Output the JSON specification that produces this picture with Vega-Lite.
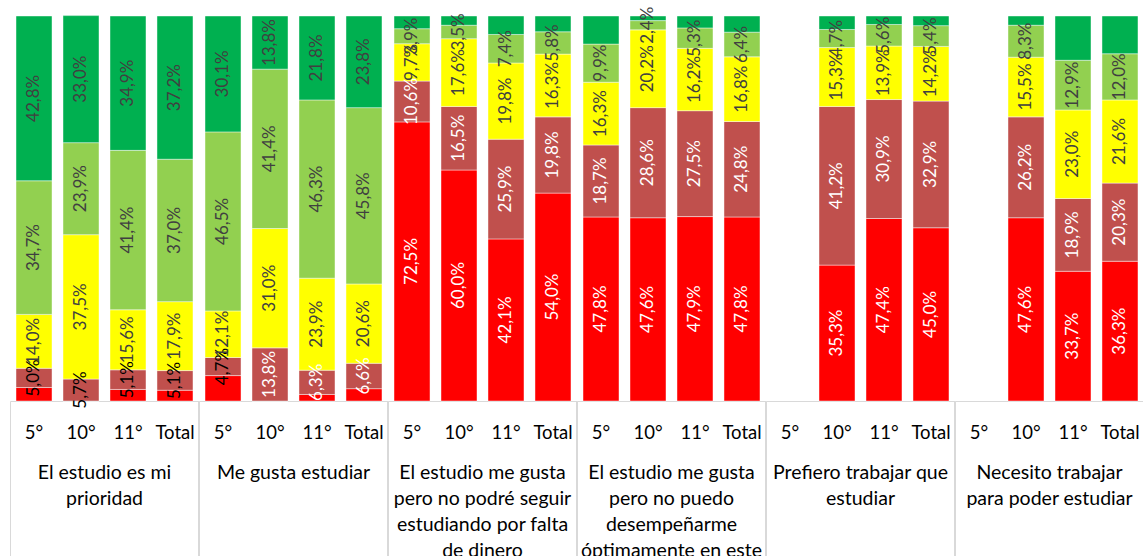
{
  "$schema": "https://vega.github.io/schema/vega-lite/v6.json",
  "padding": {"left": 9, "top": 6, "right": 0, "bottom": 0},
  "background": "white",
  "bounds": "flush",
  "config": {
    "font": "Lato",
    "view": {"stroke": null},
    "locale": {"number": {"decimal": ",", "thousands": ".", "grouping": [3], "currency": ["", " €"]}}
  },
  "data": {"values": [
    {"grupo": "El estudio es mi prioridad", "grado": "5°", "nivel": 1, "valor": 0.035, "etiqueta": false},
    {"grupo": "El estudio es mi prioridad", "grado": "5°", "nivel": 2, "valor": 0.050, "etiqueta": true},
    {"grupo": "El estudio es mi prioridad", "grado": "5°", "nivel": 3, "valor": 0.140, "etiqueta": true},
    {"grupo": "El estudio es mi prioridad", "grado": "5°", "nivel": 4, "valor": 0.347, "etiqueta": true},
    {"grupo": "El estudio es mi prioridad", "grado": "5°", "nivel": 5, "valor": 0.428, "etiqueta": true},
    {"grupo": "El estudio es mi prioridad", "grado": "10°", "nivel": 1, "valor": 0.000, "etiqueta": false},
    {"grupo": "El estudio es mi prioridad", "grado": "10°", "nivel": 2, "valor": 0.057, "etiqueta": true},
    {"grupo": "El estudio es mi prioridad", "grado": "10°", "nivel": 3, "valor": 0.375, "etiqueta": true},
    {"grupo": "El estudio es mi prioridad", "grado": "10°", "nivel": 4, "valor": 0.239, "etiqueta": true},
    {"grupo": "El estudio es mi prioridad", "grado": "10°", "nivel": 5, "valor": 0.330, "etiqueta": true},
    {"grupo": "El estudio es mi prioridad", "grado": "11°", "nivel": 1, "valor": 0.030, "etiqueta": false},
    {"grupo": "El estudio es mi prioridad", "grado": "11°", "nivel": 2, "valor": 0.051, "etiqueta": true},
    {"grupo": "El estudio es mi prioridad", "grado": "11°", "nivel": 3, "valor": 0.156, "etiqueta": true},
    {"grupo": "El estudio es mi prioridad", "grado": "11°", "nivel": 4, "valor": 0.414, "etiqueta": true},
    {"grupo": "El estudio es mi prioridad", "grado": "11°", "nivel": 5, "valor": 0.349, "etiqueta": true},
    {"grupo": "El estudio es mi prioridad", "grado": "Total", "nivel": 1, "valor": 0.028, "etiqueta": false},
    {"grupo": "El estudio es mi prioridad", "grado": "Total", "nivel": 2, "valor": 0.051, "etiqueta": true},
    {"grupo": "El estudio es mi prioridad", "grado": "Total", "nivel": 3, "valor": 0.179, "etiqueta": true},
    {"grupo": "El estudio es mi prioridad", "grado": "Total", "nivel": 4, "valor": 0.370, "etiqueta": true},
    {"grupo": "El estudio es mi prioridad", "grado": "Total", "nivel": 5, "valor": 0.372, "etiqueta": true},

    {"grupo": "Me gusta estudiar", "grado": "5°", "nivel": 1, "valor": 0.066, "etiqueta": false},
    {"grupo": "Me gusta estudiar", "grado": "5°", "nivel": 2, "valor": 0.047, "etiqueta": true},
    {"grupo": "Me gusta estudiar", "grado": "5°", "nivel": 3, "valor": 0.121, "etiqueta": true},
    {"grupo": "Me gusta estudiar", "grado": "5°", "nivel": 4, "valor": 0.465, "etiqueta": true},
    {"grupo": "Me gusta estudiar", "grado": "5°", "nivel": 5, "valor": 0.301, "etiqueta": true},
    {"grupo": "Me gusta estudiar", "grado": "10°", "nivel": 1, "valor": 0.000, "etiqueta": false},
    {"grupo": "Me gusta estudiar", "grado": "10°", "nivel": 2, "valor": 0.138, "etiqueta": true},
    {"grupo": "Me gusta estudiar", "grado": "10°", "nivel": 3, "valor": 0.310, "etiqueta": true},
    {"grupo": "Me gusta estudiar", "grado": "10°", "nivel": 4, "valor": 0.414, "etiqueta": true},
    {"grupo": "Me gusta estudiar", "grado": "10°", "nivel": 5, "valor": 0.138, "etiqueta": true},
    {"grupo": "Me gusta estudiar", "grado": "11°", "nivel": 1, "valor": 0.017, "etiqueta": false},
    {"grupo": "Me gusta estudiar", "grado": "11°", "nivel": 2, "valor": 0.063, "etiqueta": true},
    {"grupo": "Me gusta estudiar", "grado": "11°", "nivel": 3, "valor": 0.239, "etiqueta": true},
    {"grupo": "Me gusta estudiar", "grado": "11°", "nivel": 4, "valor": 0.463, "etiqueta": true},
    {"grupo": "Me gusta estudiar", "grado": "11°", "nivel": 5, "valor": 0.218, "etiqueta": true},
    {"grupo": "Me gusta estudiar", "grado": "Total", "nivel": 1, "valor": 0.032, "etiqueta": false},
    {"grupo": "Me gusta estudiar", "grado": "Total", "nivel": 2, "valor": 0.066, "etiqueta": true},
    {"grupo": "Me gusta estudiar", "grado": "Total", "nivel": 3, "valor": 0.206, "etiqueta": true},
    {"grupo": "Me gusta estudiar", "grado": "Total", "nivel": 4, "valor": 0.458, "etiqueta": true},
    {"grupo": "Me gusta estudiar", "grado": "Total", "nivel": 5, "valor": 0.238, "etiqueta": true},

    {"grupo": "El estudio me gusta pero no podré seguir estudiando por falta de dinero", "grado": "5°", "nivel": 1, "valor": 0.725, "etiqueta": true},
    {"grupo": "El estudio me gusta pero no podré seguir estudiando por falta de dinero", "grado": "5°", "nivel": 2, "valor": 0.106, "etiqueta": true},
    {"grupo": "El estudio me gusta pero no podré seguir estudiando por falta de dinero", "grado": "5°", "nivel": 3, "valor": 0.097, "etiqueta": true},
    {"grupo": "El estudio me gusta pero no podré seguir estudiando por falta de dinero", "grado": "5°", "nivel": 4, "valor": 0.039, "etiqueta": true},
    {"grupo": "El estudio me gusta pero no podré seguir estudiando por falta de dinero", "grado": "5°", "nivel": 5, "valor": 0.033, "etiqueta": false},
    {"grupo": "El estudio me gusta pero no podré seguir estudiando por falta de dinero", "grado": "10°", "nivel": 1, "valor": 0.600, "etiqueta": true},
    {"grupo": "El estudio me gusta pero no podré seguir estudiando por falta de dinero", "grado": "10°", "nivel": 2, "valor": 0.165, "etiqueta": true},
    {"grupo": "El estudio me gusta pero no podré seguir estudiando por falta de dinero", "grado": "10°", "nivel": 3, "valor": 0.176, "etiqueta": true},
    {"grupo": "El estudio me gusta pero no podré seguir estudiando por falta de dinero", "grado": "10°", "nivel": 4, "valor": 0.035, "etiqueta": true},
    {"grupo": "El estudio me gusta pero no podré seguir estudiando por falta de dinero", "grado": "10°", "nivel": 5, "valor": 0.024, "etiqueta": false},
    {"grupo": "El estudio me gusta pero no podré seguir estudiando por falta de dinero", "grado": "11°", "nivel": 1, "valor": 0.421, "etiqueta": true},
    {"grupo": "El estudio me gusta pero no podré seguir estudiando por falta de dinero", "grado": "11°", "nivel": 2, "valor": 0.259, "etiqueta": true},
    {"grupo": "El estudio me gusta pero no podré seguir estudiando por falta de dinero", "grado": "11°", "nivel": 3, "valor": 0.198, "etiqueta": true},
    {"grupo": "El estudio me gusta pero no podré seguir estudiando por falta de dinero", "grado": "11°", "nivel": 4, "valor": 0.074, "etiqueta": true},
    {"grupo": "El estudio me gusta pero no podré seguir estudiando por falta de dinero", "grado": "11°", "nivel": 5, "valor": 0.048, "etiqueta": false},
    {"grupo": "El estudio me gusta pero no podré seguir estudiando por falta de dinero", "grado": "Total", "nivel": 1, "valor": 0.540, "etiqueta": true},
    {"grupo": "El estudio me gusta pero no podré seguir estudiando por falta de dinero", "grado": "Total", "nivel": 2, "valor": 0.198, "etiqueta": true},
    {"grupo": "El estudio me gusta pero no podré seguir estudiando por falta de dinero", "grado": "Total", "nivel": 3, "valor": 0.163, "etiqueta": true},
    {"grupo": "El estudio me gusta pero no podré seguir estudiando por falta de dinero", "grado": "Total", "nivel": 4, "valor": 0.058, "etiqueta": true},
    {"grupo": "El estudio me gusta pero no podré seguir estudiando por falta de dinero", "grado": "Total", "nivel": 5, "valor": 0.041, "etiqueta": false},

    {"grupo": "El estudio me gusta pero no puedo desempeñarme óptimamente en este", "grado": "5°", "nivel": 1, "valor": 0.478, "etiqueta": true},
    {"grupo": "El estudio me gusta pero no puedo desempeñarme óptimamente en este", "grado": "5°", "nivel": 2, "valor": 0.187, "etiqueta": true},
    {"grupo": "El estudio me gusta pero no puedo desempeñarme óptimamente en este", "grado": "5°", "nivel": 3, "valor": 0.163, "etiqueta": true},
    {"grupo": "El estudio me gusta pero no puedo desempeñarme óptimamente en este", "grado": "5°", "nivel": 4, "valor": 0.099, "etiqueta": true},
    {"grupo": "El estudio me gusta pero no puedo desempeñarme óptimamente en este", "grado": "5°", "nivel": 5, "valor": 0.073, "etiqueta": false},
    {"grupo": "El estudio me gusta pero no puedo desempeñarme óptimamente en este", "grado": "10°", "nivel": 1, "valor": 0.476, "etiqueta": true},
    {"grupo": "El estudio me gusta pero no puedo desempeñarme óptimamente en este", "grado": "10°", "nivel": 2, "valor": 0.286, "etiqueta": true},
    {"grupo": "El estudio me gusta pero no puedo desempeñarme óptimamente en este", "grado": "10°", "nivel": 3, "valor": 0.202, "etiqueta": true},
    {"grupo": "El estudio me gusta pero no puedo desempeñarme óptimamente en este", "grado": "10°", "nivel": 4, "valor": 0.024, "etiqueta": true},
    {"grupo": "El estudio me gusta pero no puedo desempeñarme óptimamente en este", "grado": "10°", "nivel": 5, "valor": 0.012, "etiqueta": false},
    {"grupo": "El estudio me gusta pero no puedo desempeñarme óptimamente en este", "grado": "11°", "nivel": 1, "valor": 0.479, "etiqueta": true},
    {"grupo": "El estudio me gusta pero no puedo desempeñarme óptimamente en este", "grado": "11°", "nivel": 2, "valor": 0.275, "etiqueta": true},
    {"grupo": "El estudio me gusta pero no puedo desempeñarme óptimamente en este", "grado": "11°", "nivel": 3, "valor": 0.162, "etiqueta": true},
    {"grupo": "El estudio me gusta pero no puedo desempeñarme óptimamente en este", "grado": "11°", "nivel": 4, "valor": 0.053, "etiqueta": true},
    {"grupo": "El estudio me gusta pero no puedo desempeñarme óptimamente en este", "grado": "11°", "nivel": 5, "valor": 0.031, "etiqueta": false},
    {"grupo": "El estudio me gusta pero no puedo desempeñarme óptimamente en este", "grado": "Total", "nivel": 1, "valor": 0.478, "etiqueta": true},
    {"grupo": "El estudio me gusta pero no puedo desempeñarme óptimamente en este", "grado": "Total", "nivel": 2, "valor": 0.248, "etiqueta": true},
    {"grupo": "El estudio me gusta pero no puedo desempeñarme óptimamente en este", "grado": "Total", "nivel": 3, "valor": 0.168, "etiqueta": true},
    {"grupo": "El estudio me gusta pero no puedo desempeñarme óptimamente en este", "grado": "Total", "nivel": 4, "valor": 0.064, "etiqueta": true},
    {"grupo": "El estudio me gusta pero no puedo desempeñarme óptimamente en este", "grado": "Total", "nivel": 5, "valor": 0.042, "etiqueta": false},

    {"grupo": "Prefiero trabajar que estudiar", "grado": "10°", "nivel": 1, "valor": 0.353, "etiqueta": true},
    {"grupo": "Prefiero trabajar que estudiar", "grado": "10°", "nivel": 2, "valor": 0.412, "etiqueta": true},
    {"grupo": "Prefiero trabajar que estudiar", "grado": "10°", "nivel": 3, "valor": 0.153, "etiqueta": true},
    {"grupo": "Prefiero trabajar que estudiar", "grado": "10°", "nivel": 4, "valor": 0.047, "etiqueta": true},
    {"grupo": "Prefiero trabajar que estudiar", "grado": "10°", "nivel": 5, "valor": 0.035, "etiqueta": false},
    {"grupo": "Prefiero trabajar que estudiar", "grado": "11°", "nivel": 1, "valor": 0.474, "etiqueta": true},
    {"grupo": "Prefiero trabajar que estudiar", "grado": "11°", "nivel": 2, "valor": 0.309, "etiqueta": true},
    {"grupo": "Prefiero trabajar que estudiar", "grado": "11°", "nivel": 3, "valor": 0.139, "etiqueta": true},
    {"grupo": "Prefiero trabajar que estudiar", "grado": "11°", "nivel": 4, "valor": 0.056, "etiqueta": true},
    {"grupo": "Prefiero trabajar que estudiar", "grado": "11°", "nivel": 5, "valor": 0.022, "etiqueta": false},
    {"grupo": "Prefiero trabajar que estudiar", "grado": "Total", "nivel": 1, "valor": 0.450, "etiqueta": true},
    {"grupo": "Prefiero trabajar que estudiar", "grado": "Total", "nivel": 2, "valor": 0.329, "etiqueta": true},
    {"grupo": "Prefiero trabajar que estudiar", "grado": "Total", "nivel": 3, "valor": 0.142, "etiqueta": true},
    {"grupo": "Prefiero trabajar que estudiar", "grado": "Total", "nivel": 4, "valor": 0.054, "etiqueta": true},
    {"grupo": "Prefiero trabajar que estudiar", "grado": "Total", "nivel": 5, "valor": 0.025, "etiqueta": false},

    {"grupo": "Necesito trabajar para poder estudiar", "grado": "10°", "nivel": 1, "valor": 0.476, "etiqueta": true},
    {"grupo": "Necesito trabajar para poder estudiar", "grado": "10°", "nivel": 2, "valor": 0.262, "etiqueta": true},
    {"grupo": "Necesito trabajar para poder estudiar", "grado": "10°", "nivel": 3, "valor": 0.155, "etiqueta": true},
    {"grupo": "Necesito trabajar para poder estudiar", "grado": "10°", "nivel": 4, "valor": 0.083, "etiqueta": true},
    {"grupo": "Necesito trabajar para poder estudiar", "grado": "10°", "nivel": 5, "valor": 0.024, "etiqueta": false},
    {"grupo": "Necesito trabajar para poder estudiar", "grado": "11°", "nivel": 1, "valor": 0.337, "etiqueta": true},
    {"grupo": "Necesito trabajar para poder estudiar", "grado": "11°", "nivel": 2, "valor": 0.189, "etiqueta": true},
    {"grupo": "Necesito trabajar para poder estudiar", "grado": "11°", "nivel": 3, "valor": 0.230, "etiqueta": true},
    {"grupo": "Necesito trabajar para poder estudiar", "grado": "11°", "nivel": 4, "valor": 0.129, "etiqueta": true},
    {"grupo": "Necesito trabajar para poder estudiar", "grado": "11°", "nivel": 5, "valor": 0.115, "etiqueta": false},
    {"grupo": "Necesito trabajar para poder estudiar", "grado": "Total", "nivel": 1, "valor": 0.363, "etiqueta": true},
    {"grupo": "Necesito trabajar para poder estudiar", "grado": "Total", "nivel": 2, "valor": 0.203, "etiqueta": true},
    {"grupo": "Necesito trabajar para poder estudiar", "grado": "Total", "nivel": 3, "valor": 0.216, "etiqueta": true},
    {"grupo": "Necesito trabajar para poder estudiar", "grado": "Total", "nivel": 4, "valor": 0.120, "etiqueta": true},
    {"grupo": "Necesito trabajar para poder estudiar", "grado": "Total", "nivel": 5, "valor": 0.098, "etiqueta": false}
  ]},
  "facet": {
    "column": {
      "field": "grupo",
      "type": "nominal",
      "sort": [
        "El estudio es mi prioridad",
        "Me gusta estudiar",
        "El estudio me gusta pero no podré seguir estudiando por falta de dinero",
        "El estudio me gusta pero no puedo desempeñarme óptimamente en este",
        "Prefiero trabajar que estudiar",
        "Necesito trabajar para poder estudiar"
      ],
      "header": {
        "title": null,
        "labelOrient": "bottom",
        "labelFont": "Lato",
        "labelFontSize": 19.5,
        "labelColor": "#000000",
        "labelLineHeight": 26,
        "labelPadding": -108,
        "labelExpr": "datum.value == 'El estudio es mi prioridad' ? ['El estudio es mi', 'prioridad'] : datum.value == 'Me gusta estudiar' ? ['Me gusta estudiar'] : datum.value == 'El estudio me gusta pero no podré seguir estudiando por falta de dinero' ? ['El estudio me gusta', 'pero no podré seguir', 'estudiando por falta', 'de dinero'] : datum.value == 'El estudio me gusta pero no puedo desempeñarme óptimamente en este' ? ['El estudio me gusta', 'pero no puedo', 'desempeñarme', 'óptimamente en este'] : datum.value == 'Prefiero trabajar que estudiar' ? ['Prefiero trabajar que', 'estudiar'] : ['Necesito trabajar', 'para poder estudiar']"
      }
    }
  },
  "spacing": 0,
  "spec": {
    "width": 189,
    "height": 385,
    "resolve": {"axis": {"x": "independent"}},
    "layer": [
      {
        "mark": {"type": "bar", "stroke": "#ffffff", "strokeWidth": 0.8, "strokeOpacity": 0.55},
        "encoding": {
          "x": {
            "field": "grado", "type": "nominal",
            "scale": {"domain": ["5°", "10°", "11°", "Total"], "paddingInner": 0.234, "paddingOuter": 0.128},
            "axis": {"orient": "bottom", "title": null, "labelAngle": 0, "labelFont": "Lato", "labelFontSize": 18.5, "labelColor": "#000000", "labelPadding": 22, "ticks": false, "domainColor": "#D9D9D9", "domainWidth": 1, "grid": false}
          },
          "y": {"field": "valor", "type": "quantitative", "stack": "zero", "scale": {"domain": [0, 1], "nice": false}, "axis": null},
          "color": {
            "field": "nivel", "type": "ordinal",
            "scale": {"domain": [1, 2, 3, 4, 5], "range": ["#FF0000", "#C0504D", "#FFFF00", "#92D050", "#00B050"]},
            "legend": null
          },
          "order": {"field": "nivel", "type": "quantitative", "sort": "ascending"}
        }
      },
      {
        "mark": {"type": "text", "angle": 270, "align": "center", "baseline": "middle", "font": "Lato", "fontSize": 17},
        "encoding": {
          "x": {
            "field": "grado", "type": "nominal",
            "axis": {"orient": "bottom", "title": null, "values": ["5°"], "bandPosition": -0.167, "labels": false, "domain": false, "ticks": true, "tickSize": 170, "tickColor": "#D9D9D9", "tickWidth": 1, "grid": false}
          },
          "y": {"field": "valor", "type": "quantitative", "stack": "zero", "bandPosition": 0.5},
          "detail": {"field": "nivel", "type": "ordinal"},
          "order": {"field": "nivel", "type": "quantitative", "sort": "ascending"},
          "text": {"condition": {"test": "!datum.etiqueta || datum.nivel >= 3", "value": ""}, "field": "valor", "type": "quantitative", "format": ".1%"},
          "color": {"condition": {"test": "datum.valor < 0.06", "value": "#000000"}, "value": "#FFFFFF"}
        }
      },
      {
        "mark": {"type": "text", "angle": 270, "align": "center", "baseline": "middle", "font": "Lato", "fontSize": 17, "color": "#404040"},
        "encoding": {
          "x": {
            "field": "grado", "type": "nominal",
            "axis": {"orient": "bottom", "title": null, "values": ["Total"], "bandPosition": 1.167, "labels": false, "domain": false, "ticks": true, "tickSize": 170, "tickColor": "#D9D9D9", "tickWidth": 1, "grid": false}
          },
          "y": {"field": "valor", "type": "quantitative", "stack": "zero", "bandPosition": 0.5},
          "detail": {"field": "nivel", "type": "ordinal"},
          "order": {"field": "nivel", "type": "quantitative", "sort": "ascending"},
          "text": {"condition": {"test": "!datum.etiqueta || datum.nivel <= 2", "value": ""}, "field": "valor", "type": "quantitative", "format": ".1%"}
        }
      }
    ]
  }
}
